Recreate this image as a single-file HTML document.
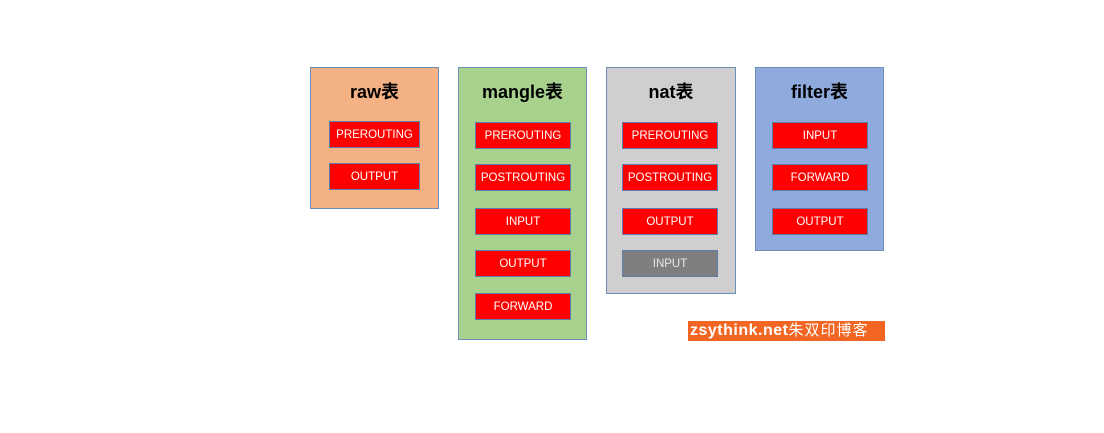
<!DOCTYPE html>
<html><head><meta charset="utf-8"><style>
body{margin:0;width:1104px;height:433px;background:#fff;position:relative;font-family:"Liberation Sans","Noto Sans CJK SC",sans-serif;overflow:hidden}
.p{position:absolute;border:1px solid #6d90b8;box-sizing:border-box}
.t{position:absolute;left:0;right:0;top:10px;text-align:center;font-weight:bold;font-size:18px;color:#000}
.b{position:absolute;background:#ff0000;border:1px solid #5b7fa8;box-sizing:border-box;color:#fff;font-size:11.5px;text-align:center;line-height:27px}
.wm{position:absolute;left:688px;top:321px;width:197px;height:20px;background:#f26522;color:#fff;font-weight:bold;font-size:16px;line-height:20px;white-space:nowrap;padding-left:2px;box-sizing:border-box}
</style></head><body>
<div class="p" style="left:310px;top:67px;width:129px;height:142px;background:#f4b183"><div class="t">raw表</div></div>
<div class="b" style="left:329px;top:121px;width:91px;height:27px">PREROUTING</div>
<div class="b" style="left:329px;top:163px;width:91px;height:27px">OUTPUT</div>

<div class="p" style="left:458px;top:67px;width:129px;height:273px;background:#a9d18e"><div class="t">mangle表</div></div>
<div class="b" style="left:475px;top:122px;width:96px;height:27px">PREROUTING</div>
<div class="b" style="left:475px;top:164px;width:96px;height:27px">POSTROUTING</div>
<div class="b" style="left:475px;top:208px;width:96px;height:27px">INPUT</div>
<div class="b" style="left:475px;top:250px;width:96px;height:27px">OUTPUT</div>
<div class="b" style="left:475px;top:293px;width:96px;height:27px">FORWARD</div>

<div class="p" style="left:606px;top:67px;width:130px;height:227px;background:#d0cece"><div class="t">nat表</div></div>
<div class="b" style="left:622px;top:122px;width:96px;height:27px">PREROUTING</div>
<div class="b" style="left:622px;top:164px;width:96px;height:27px">POSTROUTING</div>
<div class="b" style="left:622px;top:208px;width:96px;height:27px">OUTPUT</div>
<div class="b" style="left:622px;top:250px;width:96px;height:27px;background:#7f7f7f;color:#e8e8e8">INPUT</div>

<div class="p" style="left:755px;top:67px;width:129px;height:184px;background:#8faadc"><div class="t">filter表</div></div>
<div class="b" style="left:772px;top:122px;width:96px;height:27px">INPUT</div>
<div class="b" style="left:772px;top:164px;width:96px;height:27px">FORWARD</div>
<div class="b" style="left:772px;top:208px;width:96px;height:27px">OUTPUT</div>

<div class="wm"><span style="letter-spacing:0.5px">zsythink.net</span><span style="font-weight:normal;font-size:15px;letter-spacing:1px">朱双印博客</span></div>
</body></html>
